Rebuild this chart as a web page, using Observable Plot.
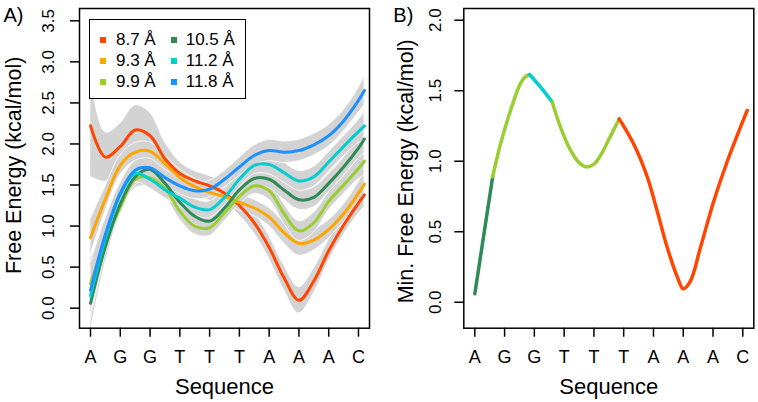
<!DOCTYPE html>
<html><head><meta charset="utf-8">
<script src="https://cdn.jsdelivr.net/npm/d3@7"></script>
<script src="https://cdn.jsdelivr.net/npm/@observablehq/plot@0.6"></script>
<style>
body{margin:0;background:#fff;font-family:"Liberation Sans",Arial,Helvetica,sans-serif;}
#wrap{position:relative;width:758px;height:402px;display:flex;}
#wrap svg{display:block;overflow:visible;}
.leg{position:absolute;box-sizing:border-box;border:1.5px solid #000;background:#fff;}
.sq{position:absolute;width:6px;height:6px;}
.lt{position:absolute;font-size:17px;line-height:20px;white-space:pre;color:#000;}
</style></head><body><div id="wrap"></div>
<script>
// ---- data ----
const sequence = ["A","G","G","T","T","T","A","A","A","C"];
const seqPos = [1,2,3,4,5,6,7,8,9,10];
const distances = ["8.7 Å","9.3 Å","9.9 Å","10.5 Å","11.2 Å","11.8 Å"];
const colors = ["#FF4500","#FFA500","#9ACD32","#2E8B57","#00CED1","#1E90FF"];
const sampleX = [1,1.5,2,2.5,3,3.5,4,4.5,5,5.5,6,6.5,7,7.5,8,8.5,9,9.5,10,10.2];
const fe87  = [2.22,1.84,1.97,2.17,2.10,1.82,1.64,1.55,1.49,1.40,1.25,1.04,0.74,0.37,0.095,0.33,0.70,1.01,1.28,1.38];
const fe93  = [0.86,1.33,1.74,1.90,1.91,1.76,1.59,1.48,1.41,1.36,1.29,1.22,1.11,0.92,0.79,0.83,0.96,1.15,1.40,1.51];
const fe99  = [0.30,0.82,1.23,1.57,1.59,1.46,1.18,1.00,0.98,1.16,1.36,1.49,1.43,1.15,0.94,1.04,1.30,1.50,1.70,1.79];
const fe105 = [0.06,0.75,1.27,1.60,1.69,1.52,1.29,1.12,1.06,1.22,1.44,1.58,1.57,1.44,1.32,1.35,1.52,1.72,1.95,2.06];
const fe112 = [0.15,0.85,1.38,1.64,1.57,1.44,1.34,1.23,1.20,1.35,1.57,1.74,1.75,1.65,1.55,1.60,1.78,1.97,2.15,2.22];
const fe118 = [0.22,0.90,1.40,1.68,1.71,1.59,1.49,1.43,1.45,1.57,1.72,1.86,1.92,1.90,1.92,1.99,2.10,2.28,2.53,2.65];
// half-widths of the confidence bands
const hw87  = [0.62,0.30,0.28,0.30,0.28,0.20,0.14,0.12,0.12,0.12,0.12,0.13,0.14,0.15,0.16,0.15,0.13,0.12,0.13,0.15];
const hw93  = [0.22,0.15,0.12,0.11,0.11,0.10,0.10,0.10,0.10,0.10,0.10,0.10,0.11,0.13,0.15,0.13,0.11,0.11,0.13,0.16];
const hw99  = [0.30,0.18,0.12,0.11,0.11,0.10,0.10,0.10,0.10,0.10,0.10,0.10,0.11,0.12,0.12,0.12,0.11,0.11,0.13,0.17];
const hw105 = [0.35,0.20,0.13,0.11,0.11,0.10,0.10,0.10,0.10,0.10,0.10,0.10,0.11,0.12,0.12,0.12,0.11,0.11,0.13,0.17];
const hw112 = [0.32,0.19,0.12,0.11,0.11,0.10,0.10,0.10,0.10,0.10,0.10,0.11,0.12,0.12,0.12,0.12,0.12,0.12,0.14,0.17];
const hw118 = [0.32,0.19,0.12,0.11,0.11,0.10,0.10,0.10,0.10,0.10,0.11,0.12,0.13,0.13,0.13,0.13,0.13,0.13,0.15,0.18];
const yTicksA = [0,0.5,1,1.5,2,2.5,3,3.5];
const yTicksB = [0,0.5,1,1.5,2];
// minimum free energy, segments by the distance giving the minimum
const minSegDist = ["10.5 Å","9.9 Å","11.2 Å","9.9 Å","8.7 Å"];
const minSegX = [
  [1,1.6],
  [1.6,1.86,2.2,2.53,2.70,2.84],
  [2.84,3.21,3.6],
  [3.6,3.88,4.21,4.5,4.75,5.0,5.22,5.56,5.85],
  [5.85,6.34,6.79,7.12,7.46,7.8,8.0,8.24,8.58,9.03,9.48,9.92,10.15]
];
const minSegY = [
  [0.06,0.89],
  [0.89,1.12,1.36,1.55,1.60,1.615],
  [1.615,1.525,1.42],
  [1.42,1.24,1.08,0.99,0.96,0.98,1.04,1.18,1.30],
  [1.30,1.12,0.89,0.65,0.39,0.18,0.095,0.15,0.39,0.72,1.00,1.24,1.36]
];

// ---- build tables ----
const feSeries = [fe87,fe93,fe99,fe105,fe112,fe118];
const hwSeries = [hw87,hw93,hw99,hw105,hw112,hw118];
const rows = [];
feSeries.forEach((arr,i)=>arr.forEach((v,j)=>rows.push({d:distances[i],x:sampleX[j],y:v,lo:v-hwSeries[i][j],hi:v+hwSeries[i][j]})));
const minRows = [];
minSegX.forEach((xs,k)=>xs.forEach((x,j)=>minRows.push({seg:k,d:minSegDist[k],x,y:minSegY[k][j]})));

const font = '"Liberation Sans",Arial,Helvetica,sans-serif';
const colorScale = {domain:distances, range:colors};

function commonAxes(yTicks, tickDx){
  return [
    Plot.frame({stroke:"black",strokeWidth:1.5}),
    Plot.axisX(seqPos,{tickSize:9,tickPadding:14,tickFormat:()=>"",strokeWidth:1.5,label:null}),
    Plot.text(seqPos,{x:d=>d,text:d=>sequence[d-1],frameAnchor:"bottom",textAnchor:"middle",lineAnchor:"middle",dy:29,fontSize:18}),
    Plot.axisY(yTicks,{tickSize:9,tickFormat:()=>"",strokeWidth:1.5,label:null}),
    Plot.text(yTicks,{y:d=>d,text:d=>d.toFixed(1),frameAnchor:"left",textAnchor:"middle",lineAnchor:"middle",dx:tickDx,rotate:-90,fontSize:17}),
    Plot.text(["Sequence"],{frameAnchor:"bottom",textAnchor:"middle",lineAnchor:"middle",dy:59,fontSize:22})
  ];
}

const plotA = Plot.plot({
  width:379,height:402,marginLeft:79,marginRight:10,marginTop:8,marginBottom:74.3,
  style:{fontFamily:font,fontSize:"17px",background:"white",color:"black",overflow:"visible"},
  x:{domain:[0.63,10.37]},
  y:{domain:[-0.244,3.65]},
  color:colorScale,
  marks:[
    Plot.areaY(rows,{x:"x",y1:"lo",y2:"hi",z:"d",fill:"#d3d3d3",stroke:"white",strokeWidth:0.8,curve:"catmull-rom",clip:true}),
    Plot.line(rows,{x:"x",y:"y",z:"d",stroke:"d",strokeWidth:3,curve:"catmull-rom"}),
    ...commonAxes(yTicksA,-31),
    Plot.text(["Free Energy (kcal/mol)"],{frameAnchor:"left",textAnchor:"middle",lineAnchor:"middle",dx:-65,dy:-3,rotate:-90,fontSize:21.5}),
    Plot.text(["A)"],{frameAnchor:"top-left",dx:-76,dy:7,textAnchor:"start",lineAnchor:"middle",fontSize:20})
  ]
});

const plotB = Plot.plot({
  width:379,height:402,marginLeft:84.3,marginRight:4.7,marginTop:8,marginBottom:74.3,
  style:{fontFamily:font,fontSize:"17px",background:"white",color:"black",overflow:"visible"},
  x:{domain:[0.63,10.37]},
  y:{domain:[-0.184,2.083]},
  color:colorScale,
  marks:[
    Plot.line(minRows,{x:"x",y:"y",z:"seg",stroke:"d",strokeWidth:3.5,curve:"catmull-rom"}),
    ...commonAxes(yTicksB,-28.3),
    Plot.text(["Min. Free Energy (kcal/mol)"],{frameAnchor:"left",textAnchor:"middle",lineAnchor:"middle",dx:-57.3,dy:3,rotate:-90,fontSize:21.5}),
    Plot.text(["B)"],{frameAnchor:"top-left",dx:-70.5,dy:7,textAnchor:"start",lineAnchor:"middle",fontSize:20})
  ]
});

const wrap = document.getElementById("wrap");
wrap.appendChild(plotA);
wrap.appendChild(plotB);

// legend (inside panel A)
const leg = document.createElement("div");
leg.className = "leg";
Object.assign(leg.style,{left:"89px",top:"19px",width:"157px",height:"80px"});
wrap.appendChild(leg);
distances.forEach((d,i)=>{
  const col = i<3?0:1, row = i%3;
  const cy = 39.5 + row*21.2;
  const sx = col?174:102.7, tx = col?185.7:116;
  const sq = document.createElement("div");
  sq.className="sq";
  Object.assign(sq.style,{left:(sx-3)+"px",top:(cy-3)+"px",background:colors[i]});
  wrap.appendChild(sq);
  const t = document.createElement("div");
  t.className="lt";
  t.textContent = d;
  Object.assign(t.style,{left:tx+"px",top:(cy-10)+"px"});
  wrap.appendChild(t);
});
</script>
</body></html>
